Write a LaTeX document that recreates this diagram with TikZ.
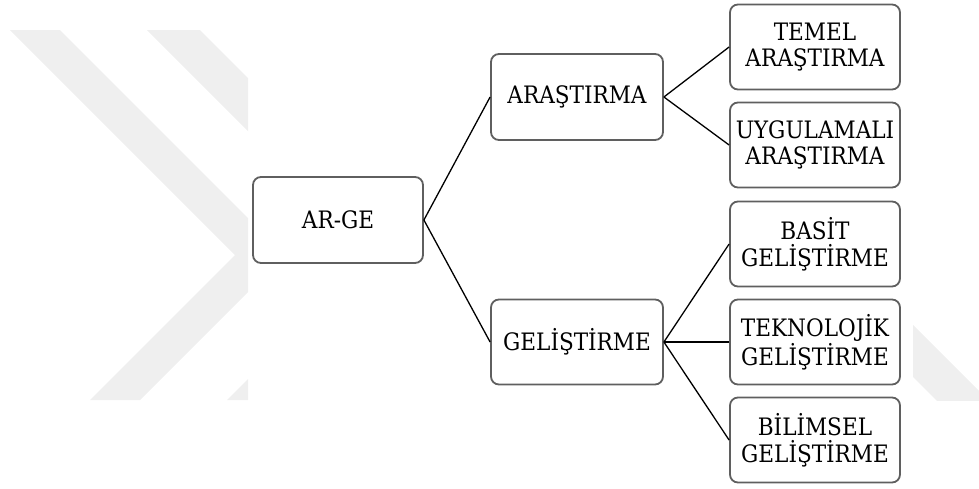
\documentclass[tikz,border=0pt]{standalone}
\usepackage{fontspec}
\setmainfont{DejaVu Serif Condensed}
\definecolor{wmgray}{RGB}{239,239,239}
\definecolor{boxline}{RGB}{95,95,95}
\tikzset{
  kutu/.style={draw=boxline, line width=0.9pt, rounded corners=4pt, fill=white,
    minimum width=85pt, minimum height=42.5pt, inner sep=0pt, align=center,
    font=\fontsize{12}{13.3}\selectfont},
  bag/.style={black, line width=0.65pt}
}
\begin{document}
\begin{tikzpicture}[x=0.5pt, y=-0.5pt]
  \useasboundingbox (0,0) rectangle (979,488);
  % Filigran (hellgrau, abgeschnitten)
  \begin{scope}
    \clip (0,30) rectangle (248,400);
    \fill[wmgray] (10,30) -- (60,30) -- (285,255) -- (140,400) -- (90,400) -- (235,255) -- cycle;
    \fill[wmgray] (147,30) -- (200,30) -- (425,255) -- (280,400) -- (227,400) -- (372,255) -- cycle;
  \end{scope}
  \begin{scope}
    \clip (913,0) rectangle (979,400);
    \fill[wmgray] (880,292) -- (1000,412) -- (1000,464) -- (880,344) -- cycle;
  \end{scope}
  % Kutular
  \node[kutu, minimum height=43pt] (arge) at (338,220) {AR-GE};
  \node[kutu, minimum width=86pt, minimum height=43pt] (ara) at (577,97) {ARAŞTIRMA};
  \node[kutu, minimum width=86pt] (gel) at (577,342) {GELİŞTİRME};
  \node[kutu] (temel) at (815,47) {TEMEL\\ARAŞTIRMA};
  \node[kutu] (uyg) at (815,145) {UYGULAMALI\\ARAŞTIRMA};
  \node[kutu] (basit) at (815,244) {BASİT\\GELİŞTİRME};
  \node[kutu] (tekno) at (815,342) {TEKNOLOJİK\\GELİŞTİRME};
  \node[kutu] (bilim) at (815,440) {BİLİMSEL\\GELİŞTİRME};
  % Bağlantılar
  \foreach \k in {ara, gel}{ \draw[bag] (arge.east) -- (\k.west); }
  \foreach \k in {temel, uyg}{ \draw[bag] (ara.east) -- (\k.west); }
  \foreach \k in {basit, tekno, bilim}{ \draw[bag] (gel.east) -- (\k.west); }
\end{tikzpicture}
\end{document}
